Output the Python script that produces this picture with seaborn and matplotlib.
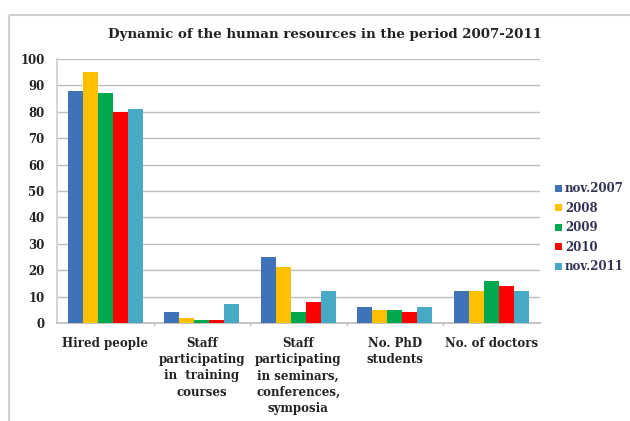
import matplotlib
matplotlib.use("Agg")
import matplotlib.pyplot as plt
from matplotlib.lines import Line2D
import seaborn as sns
import pandas as pd

categories = [
    "Hired people",
    "Staff\nparticipating\nin  training\ncourses",
    "Staff\nparticipating\nin seminars,\nconferences,\nsymposia",
    "No. PhD\nstudents",
    "No. of doctors",
]
series = ["nov.2007", "2008", "2009", "2010", "nov.2011"]
v_2007 = [88, 4, 25, 6, 12]
v_2008 = [95, 2, 21, 5, 12]
v_2009 = [87, 1, 4, 5, 16]
v_2010 = [80, 1, 8, 4, 14]
v_2011 = [81, 7, 12, 6, 12]
colors = ["#3F72B8", "#FFC000", "#00A850", "#FF0000", "#46AAC5"]

rows = []
for name, vals in zip(series, [v_2007, v_2008, v_2009, v_2010, v_2011]):
    for cat, v in zip(categories, vals):
        rows.append({"category": cat, "year": name, "value": v})
df = pd.DataFrame(rows)

sns.set_theme(style="white")
plt.rcParams["font.family"] = ["DejaVu Serif", "Liberation Serif"]
plt.rcParams["font.weight"] = "bold"

fig = plt.figure(figsize=(6.3, 4.21), dpi=100)
ax = fig.add_axes([0.0905, 0.233, 0.766, 0.627])

sns.barplot(data=df, x="category", y="value", hue="year", order=categories,
            hue_order=series, palette=colors, width=0.78, saturation=1,
            edgecolor="none", ax=ax, zorder=3)

ax.set_ylim(0, 100)
ax.set_yticks(range(0, 101, 10))
ax.set_xlim(-0.5, len(categories) - 0.5)
ax.yaxis.grid(True, color="#BDBDBD", linewidth=1.0, zorder=0)
ax.set_axisbelow(True)
for side in ["top", "right"]:
    ax.spines[side].set_visible(False)
ax.spines["left"].set_color("#D0D0D0")
ax.spines["bottom"].set_color("#BDBDBD")
ax.set_xlabel("")
ax.set_ylabel("")
ax.tick_params(axis="y", length=4, color="#BDBDBD", labelsize=8.5, pad=5)
ax.tick_params(axis="x", length=0, labelsize=8.5, pad=10)
for lbl in ax.get_xticklabels() + ax.get_yticklabels():
    lbl.set_fontweight("bold")
    lbl.set_color("#222222")
for lbl in ax.get_xticklabels():
    lbl.set_verticalalignment("top")
    lbl.set_linespacing(1.33)

# small separators between category groups
for b in range(1, len(categories)):
    ax.plot([b - 0.5, b - 0.5], [0, -0.008], transform=ax.get_xaxis_transform(),
            color="#BDBDBD", lw=1, clip_on=False)

fig.text(0.516, 0.918, "Dynamic of the human resources in the period 2007-2011",
         ha="center", va="center", fontsize=9.6, fontweight="bold", color="#222222")

handles, labels = ax.get_legend_handles_labels()
ax.legend(handles, labels, loc="center left", bbox_to_anchor=(1.01, 0.36),
          frameon=False, handlelength=0.55, handleheight=0.55,
          handletextpad=0.3, labelspacing=0.55, labelcolor="#333355",
          prop={"weight": "bold", "size": 8.5})

# outer chart frame (top and left edges)
fig.add_artist(Line2D([0.014, 1.0], [0.965, 0.965], color="#CFCFCF", lw=1.5,
                      transform=fig.transFigure, solid_capstyle="butt"))
fig.add_artist(Line2D([0.014, 0.014], [0.0, 0.965], color="#CFCFCF", lw=1.5,
                      transform=fig.transFigure, solid_capstyle="butt"))

fig.savefig("out.png", dpi=100)
